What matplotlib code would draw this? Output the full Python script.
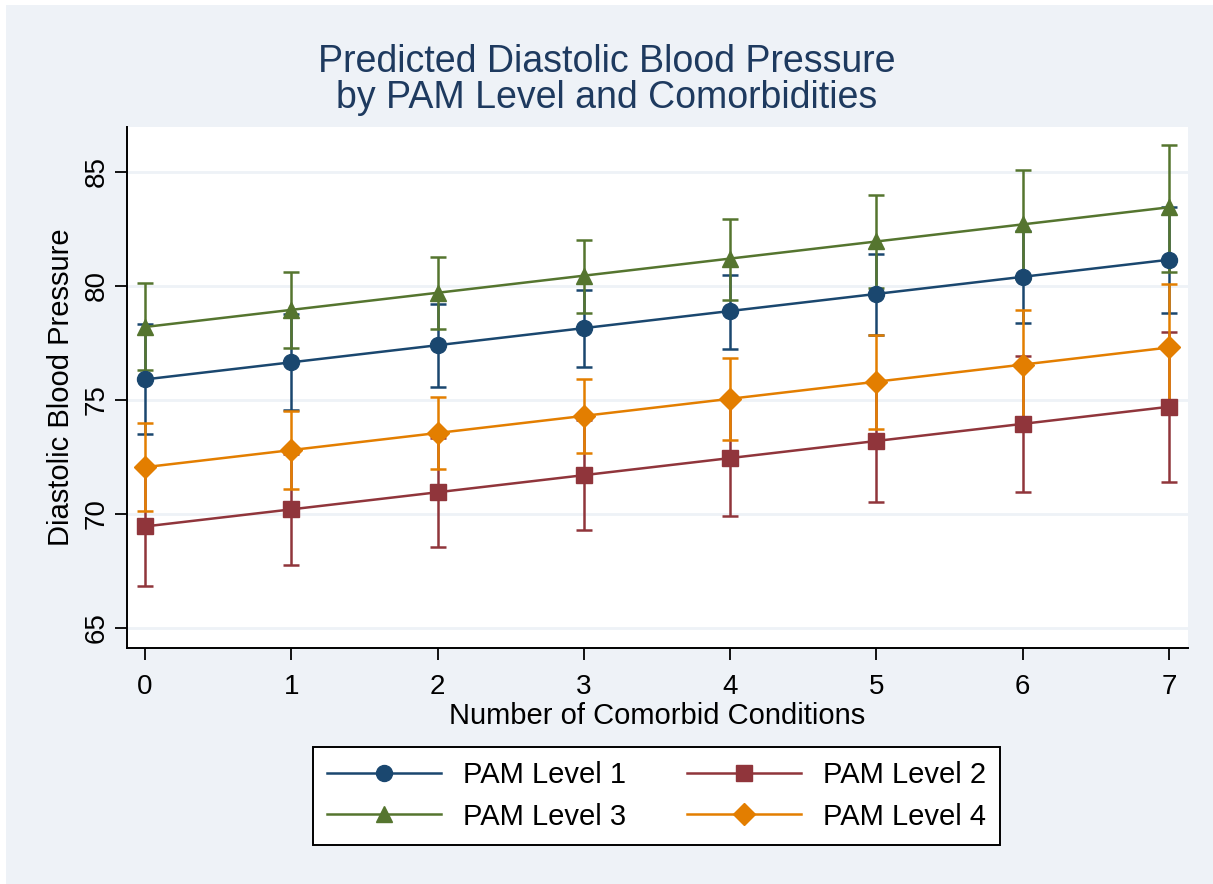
import matplotlib.pyplot as plt
import numpy as np

plt.rcParams['font.family'] = ['Liberation Sans', 'DejaVu Sans']

# Data
comorbid = [0, 1, 2, 3, 4, 5, 6, 7]
pam1 = [75.9, 76.65, 77.4, 78.15, 78.9, 79.65, 80.4, 81.15]
pam1_lo = [73.5, 74.55, 75.57, 76.46, 77.24, 77.86, 78.39, 78.83]
pam1_hi = [78.33, 78.75, 79.21, 79.81, 80.5, 81.4, 82.4, 83.45]
pam2 = [69.45, 70.2, 70.95, 71.7, 72.45, 73.2, 73.95, 74.7]
pam2_lo = [66.84, 67.76, 68.57, 69.3, 69.93, 70.51, 70.96, 71.4]
pam2_hi = [72.05, 72.64, 73.33, 74.1, 74.97, 75.89, 76.94, 78.0]
pam3 = [78.2, 78.95, 79.7, 80.45, 81.2, 81.95, 82.7, 83.45]
pam3_lo = [76.32, 77.28, 78.13, 78.8, 79.37, 79.9, 80.3, 80.6]
pam3_hi = [80.12, 80.6, 81.26, 82.02, 82.95, 83.99, 85.09, 86.2]
pam4 = [72.05, 72.8, 73.55, 74.3, 75.05, 75.8, 76.55, 77.3]
pam4_lo = [70.12, 71.1, 71.96, 72.66, 73.23, 73.71, 74.15, 74.53]
pam4_hi = [74.0, 74.5, 75.14, 75.91, 76.86, 77.85, 78.95, 80.07]

labels = ['PAM Level 1', 'PAM Level 2', 'PAM Level 3', 'PAM Level 4']
colors = ['#1a476f', '#90353b', '#55752f', '#e37e00']
markers = ['o', 's', '^', 'D']
msizes = [11.5, 11, 11.5, 11]

series = [(pam1, pam1_lo, pam1_hi), (pam2, pam2_lo, pam2_hi),
          (pam3, pam3_lo, pam3_hi), (pam4, pam4_lo, pam4_hi)]

bg = '#eef2f7'
fig = plt.figure(figsize=(12.13, 8.84), dpi=100, facecolor='white')
# light background panel (thin white strip at left and top, like the source)
fig.patches.append(plt.Rectangle((6 / 1213, 0), 1 - 6 / 1213, 1 - 5 / 884,
                                 transform=fig.transFigure, facecolor=bg,
                                 edgecolor='none', zorder=-10))
ax = fig.add_axes([0.1047, 0.267, 0.8747, 0.5893])
ax.set_facecolor('white')

x = np.array(comorbid)
handles = []
for (y, lo, hi), lab, c, m, ms in zip(series, labels, colors, markers, msizes):
    y = np.array(y)
    err = [y - np.array(lo), np.array(hi) - y]
    ax.errorbar(x, y, yerr=err, fmt='none', ecolor=c, elinewidth=1.8,
                capsize=5.8, capthick=1.8, zorder=2)
    h, = ax.plot(x, y, color=c, lw=1.8, marker=m, ms=ms, mec=c, mfc=c,
                 label=lab, zorder=3)
    handles.append(h)

ax.set_xlim(-0.123, 7.13)
ax.set_ylim(64.12, 86.97)
ax.set_yticks([65, 70, 75, 80, 85])
ax.set_xticks(comorbid)
ax.grid(axis='y', color=bg, lw=2)
ax.set_axisbelow(True)
for s in ['top', 'right']:
    ax.spines[s].set_visible(False)
for s in ['left', 'bottom']:
    ax.spines[s].set_linewidth(1.4)
ax.tick_params(axis='both', direction='out', length=8.5, width=1.3,
               labelsize=20, pad=4)
ax.tick_params(axis='x', pad=10)
plt.setp(ax.get_yticklabels(), rotation=90, va='center')

ax.set_xlabel('Number of Comorbid Conditions', fontsize=21, labelpad=1.5)
ax.set_ylabel('Diastolic Blood Pressure', fontsize=21, labelpad=6)
fig.suptitle('Predicted Diastolic Blood Pressure\nby PAM Level and Comorbidities',
             fontsize=27, color='#1e3a5f', y=0.95, linespacing=1.0)

order = [handles[0], handles[2], handles[1], handles[3]]
leg = fig.legend(order, [h.get_label() for h in order], ncol=2,
                 loc='center', bbox_to_anchor=(656.5 / 1213, 1 - 796 / 884),
                 fontsize=21, frameon=True, fancybox=False, edgecolor='black',
                 framealpha=1, handlelength=3.9, handletextpad=0.75,
                 columnspacing=2.1, borderpad=0.5, labelspacing=0.45)
leg.get_frame().set_linewidth(1.4)

fig.savefig('out.png', dpi=100, facecolor='white')
